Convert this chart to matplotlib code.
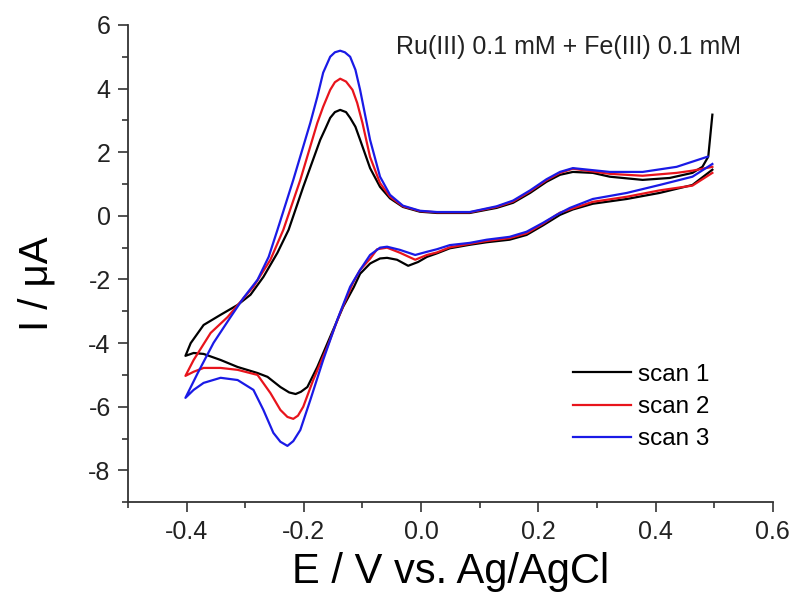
import numpy as np
import matplotlib
matplotlib.use("Agg")
import matplotlib.pyplot as plt
from matplotlib.ticker import MultipleLocator

plt.rcParams['font.family'] = ['Liberation Sans', 'DejaVu Sans']
plt.rcParams['axes.unicode_minus'] = False

# scan 1 (black): cathodic branch 0.5 -> -0.4, then anodic branch back to 0.5
s1_x = [0.497, 0.463, 0.407, 0.351, 0.293, 0.259, 0.237, 0.208, 0.180, 0.151, 0.112, 0.083,
        0.049, 0.027, 0.010, -0.005, -0.022, -0.041, -0.058, -0.070, -0.082, -0.087, -0.104,
        -0.115, -0.133, -0.155, -0.177, -0.194, -0.205, -0.214, -0.225, -0.240, -0.262, -0.279,
        -0.313, -0.342, -0.371, -0.388, -0.402,
        -0.393, -0.371, -0.342, -0.313, -0.291, -0.269, -0.245, -0.226, -0.201, -0.172, -0.163,
        -0.155, -0.147, -0.138, -0.128, -0.121, -0.112, -0.104, -0.087, -0.070, -0.053, -0.031,
        -0.002, 0.027, 0.083, 0.129, 0.157, 0.186, 0.214, 0.237, 0.259, 0.293, 0.322, 0.378,
        0.424, 0.463, 0.480, 0.490, 0.497]
s1_y = [1.45, 0.97, 0.72, 0.53, 0.38, 0.20, 0.03, -0.30, -0.60, -0.75, -0.83, -0.91,
        -1.02, -1.18, -1.29, -1.45, -1.57, -1.38, -1.32, -1.34, -1.45, -1.50, -1.82,
        -2.25, -2.86, -3.80, -4.75, -5.38, -5.53, -5.60, -5.55, -5.38, -5.06, -4.94,
        -4.75, -4.53, -4.34, -4.31, -4.40,
        -4.00, -3.43, -3.11, -2.80, -2.48, -1.92, -1.16, -0.44, 0.91, 2.39, 2.75,
        3.08, 3.26, 3.33, 3.26, 3.08, 2.80, 2.39, 1.50, 0.91, 0.55, 0.28,
        0.13, 0.09, 0.09, 0.25, 0.41, 0.72, 1.07, 1.29, 1.38, 1.35, 1.23, 1.13,
        1.19, 1.35, 1.54, 1.86, 3.18]

# scan 2 (red)
s2_x = [0.497, 0.463, 0.407, 0.351, 0.293, 0.237, 0.208, 0.180, 0.151, 0.112, 0.083, 0.049,
        0.027, 0.010, -0.010, -0.036, -0.058, -0.075, -0.087, -0.104, -0.116, -0.138, -0.160,
        -0.184, -0.201, -0.210, -0.218, -0.228, -0.240, -0.257, -0.279, -0.313, -0.342, -0.371,
        -0.388, -0.402,
        -0.388, -0.359, -0.330, -0.308, -0.286, -0.257, -0.235, -0.206, -0.177, -0.167, -0.155,
        -0.147, -0.138, -0.128, -0.117, -0.109, -0.100, -0.087, -0.070, -0.053, -0.031, -0.002,
        0.027, 0.083, 0.129, 0.157, 0.186, 0.214, 0.237, 0.259, 0.322, 0.378, 0.436, 0.463,
        0.497]
s2_y = [1.35, 0.95, 0.80, 0.60, 0.44, 0.10, -0.25, -0.55, -0.70, -0.79, -0.88, -0.99,
        -1.15, -1.23, -1.38, -1.16, -1.00, -1.05, -1.35, -1.70, -2.10, -3.05, -4.12,
        -5.16, -6.00, -6.28, -6.38, -6.32, -6.10, -5.57, -5.00, -4.84, -4.78, -4.78,
        -4.90, -5.03,
        -4.53, -3.68, -3.18, -2.70, -2.23, -1.38, -0.44, 1.13, 2.92, 3.43, 3.96,
        4.20, 4.31, 4.22, 3.96, 3.55, 2.92, 1.85, 1.03, 0.60, 0.30, 0.15,
        0.11, 0.11, 0.28, 0.45, 0.77, 1.12, 1.35, 1.48, 1.32, 1.26, 1.35, 1.42,
        1.54]

# scan 3 (blue)
s3_x = [0.497, 0.463, 0.407, 0.351, 0.293, 0.254, 0.231, 0.208, 0.180, 0.151, 0.112, 0.083,
        0.049, 0.027, 0.010, -0.010, -0.036, -0.058, -0.070, -0.087, -0.104, -0.121, -0.143,
        -0.167, -0.189, -0.206, -0.218, -0.228, -0.240, -0.252, -0.269, -0.286, -0.313, -0.342,
        -0.371, -0.388, -0.402,
        -0.381, -0.354, -0.325, -0.303, -0.279, -0.260, -0.245, -0.218, -0.189, -0.177, -0.167,
        -0.155, -0.147, -0.138, -0.130, -0.121, -0.112, -0.104, -0.087, -0.070, -0.053, -0.031,
        -0.002, 0.027, 0.083, 0.129, 0.157, 0.186, 0.214, 0.237, 0.259, 0.322, 0.378, 0.436,
        0.489]
s3_y = [1.63, 1.23, 0.97, 0.72, 0.53, 0.25, 0.03, -0.22, -0.50, -0.66, -0.75, -0.85,
        -0.92, -1.05, -1.13, -1.23, -1.07, -0.97, -1.00, -1.23, -1.70, -2.23, -3.27,
        -4.53, -5.79, -6.73, -7.08, -7.23, -7.10, -6.82, -6.10, -5.47, -5.16, -5.09,
        -5.25, -5.47, -5.72,
        -4.94, -3.99, -3.18, -2.58, -2.01, -1.29, -0.44, 1.13, 2.92, 3.74, 4.50,
        5.00, 5.14, 5.19, 5.14, 5.00, 4.59, 3.96, 2.39, 1.23, 0.66, 0.32,
        0.16, 0.12, 0.12, 0.30, 0.48, 0.80, 1.15, 1.38, 1.50, 1.38, 1.38, 1.54,
        1.86]

labels = ['scan 1', 'scan 2', 'scan 3']
colors = ['black', '#e8141c', '#1a1ae6']

fig = plt.figure(figsize=(7.95, 6.08), dpi=100)
ax = fig.add_axes([0.161, 0.174, 0.811, 0.785])

for xs, ys, lab, c in zip([s1_x, s2_x, s3_x], [s1_y, s2_y, s3_y], labels, colors):
    ax.plot(xs, ys, color=c, lw=1.6, label=lab)

ax.set_xlim(-0.5, 0.6)
ax.set_ylim(-9, 6)
ax.set_xticks(np.arange(-0.4, 0.61, 0.2))
ax.set_xticklabels(['-0.4', '-0.2', '0.0', '0.2', '0.4', '0.6'])
ax.set_yticks(np.arange(-8, 7, 2))
ax.xaxis.set_minor_locator(MultipleLocator(0.1))
ax.yaxis.set_minor_locator(MultipleLocator(1))

for s in ['top', 'right']:
    ax.spines[s].set_visible(False)
for s in ['left', 'bottom']:
    ax.spines[s].set_color('#333333')
    ax.spines[s].set_linewidth(1.3)
ax.tick_params(which='major', length=7.5, width=1.2, color='#333333', labelsize=18,
               labelcolor='#222222', pad=5)
ax.tick_params(which='minor', length=4.5, width=1.2, color='#333333')

ax.set_xlabel('E / V vs. Ag/AgCl', fontsize=30, labelpad=6)
ax.set_ylabel('I / μA', fontsize=29)
ax.yaxis.set_label_coords(-0.113, 0.457)

ax.text(-0.043, 5.3, 'Ru(III) 0.1 mM + Fe(III) 0.1 mM', fontsize=18, ha='left', va='center',
        color='#222222')

ax.legend(loc='upper left', bbox_to_anchor=(0.69, 0.29), frameon=False, fontsize=17.5,
          handlelength=2.4, handletextpad=0.3, labelspacing=0.42, borderpad=0, borderaxespad=0)

fig.savefig('out.png', dpi=100)
